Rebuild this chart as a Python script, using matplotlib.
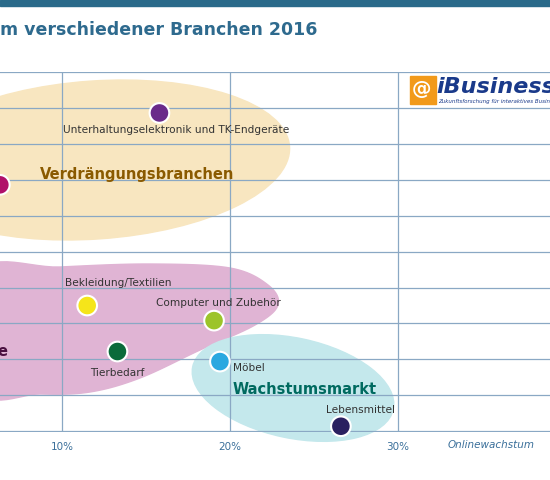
import numpy as np
import matplotlib
matplotlib.use("Agg")
import matplotlib.pyplot as plt
from matplotlib.patches import Ellipse, Polygon, Rectangle
from matplotlib.transforms import Affine2D

categories = ["Unterhaltungselektronik und TK-Endgeräte", "", "Bekleidung/Textilien",
              "Computer und Zubehör", "Tierbedarf", "Möbel", "Lebensmittel"]
online_growth = [15.8, 6.3, 11.5, 19.05, 13.3, 19.4, 26.6]
offline_value = [8.86, 6.86, 3.5, 3.08, 2.22, 1.94, 0.14]
colors = ["#6a2a8a", "#b0106a", "#f5e51a", "#9cc42a", "#0a6a3a", "#2aa8e0", "#2a2060"]
xticks = [10, 20, 30]
xticklabels = ["10%", "20%", "30%"]

W, H = 550, 480
fig = plt.figure(figsize=(W/100, H/100), dpi=100)
ax = fig.add_axes([0, 48/H, 1, 360/H])
x0 = 10 - 62/16.8
ax.set_xlim(x0, x0 + W/16.8)
ax.set_ylim(-0.02, 10)
ax.set_xticks(xticks)
ax.set_yticks(np.arange(0, 11, 1))
ax.grid(True, color="#8aa8c4", lw=0.9, zorder=2)
ax.tick_params(length=0, labelleft=False, labelbottom=False)
for s in ax.spines.values():
    s.set_visible(False)
ax.set_axisbelow(False)

pxT = Affine2D().scale(1/W, -1/H).translate(0, 1) + fig.transFigure

# blobs (pixel space)
ax.add_patch(Ellipse((95, 160), 390, 158, angle=-4, color="#f8e6c0", zorder=0.3, transform=pxT, clip_on=False))
pts = np.array([(-20,272),(60,267),(150,264),(230,268),(268,285),(278,305),(255,325),(200,350),
                (140,378),(90,392),(40,394),(-20,390)], float)
sm = []
n = len(pts)
for i in range(n):
    p0, p1, p2, p3 = pts[i-1], pts[i], pts[(i+1) % n], pts[(i+2) % n]
    for t in np.linspace(0, 1, 12, endpoint=False):
        sm.append(0.5*((2*p1) + (-p0+p2)*t + (2*p0-5*p1+4*p2-p3)*t**2 + (-p0+3*p1-3*p2+p3)*t**3))
ax.add_patch(Polygon(sm, closed=True, color="#e0b4d4", zorder=0.3, transform=pxT, clip_on=False))
ax.add_patch(Ellipse((293, 388), 205, 100, angle=12, color="#c4e8ec", zorder=0.3, transform=pxT, clip_on=False))

ax.scatter(online_growth, offline_value, s=200, c=colors, edgecolors="white", linewidths=1.5,
           zorder=5, clip_on=False)

def ft(x, y, s, **kw):
    fig.text(x/W, 1 - y/H, s, **kw)

NARROW = "Liberation Sans Narrow"
lab = dict(fontsize=7.6, color="#333333", family=NARROW, va="center")
ft(63, 130, categories[0], **lab)
ft(65, 283, categories[2], **lab)
ft(156, 303, categories[3], **lab)
ft(90, 373, categories[4], **lab)
ft(233, 368, categories[5], **lab)
ft(326, 410, categories[6], **lab)
ft(40, 174, "Verdrängungsbranchen", fontsize=10.5, weight="bold", color="#8a5a00", va="center", family=NARROW)
ft(-3, 352, "e", fontsize=10.5, weight="bold", color="#4a1040", va="center", family=NARROW)
ft(233, 389, "Wachstumsmarkt", fontsize=10.5, weight="bold", color="#006a60", va="center", family=NARROW)
for xv, t in zip(xticks, xticklabels):
    ft(62 + (xv-10)*16.8, 447, t, fontsize=7.5, color="#3a6f9a", ha="center", va="center")
ft(448, 445, "Onlinewachstum", fontsize=7.5, style="italic", color="#3a6f9a", va="center", family=NARROW)
ft(0, 30, "m verschiedener Branchen 2016", fontsize=12.5, weight="bold", color="#2e6a8e", va="center", family=NARROW)
fig.patches.append(Rectangle((0, 1-6/H), 1, 6/H, transform=fig.transFigure, color="#2a6a8a"))
# logo
fig.patches.append(Rectangle((410/W, 1-104/H), 26/W, 28/H, transform=fig.transFigure, color="#f29a1a"))
ft(412, 89, "@", fontsize=14, weight="bold", color="white", va="center")
ft(436, 87, "iBusiness", fontsize=16, weight="bold", style="italic", color="#1a3a8a", va="center")
ft(438, 101, "Zukunftsforschung für interaktives Business", fontsize=4, style="italic", color="#1a3a8a", va="center")

fig.savefig("out.png", dpi=100)
